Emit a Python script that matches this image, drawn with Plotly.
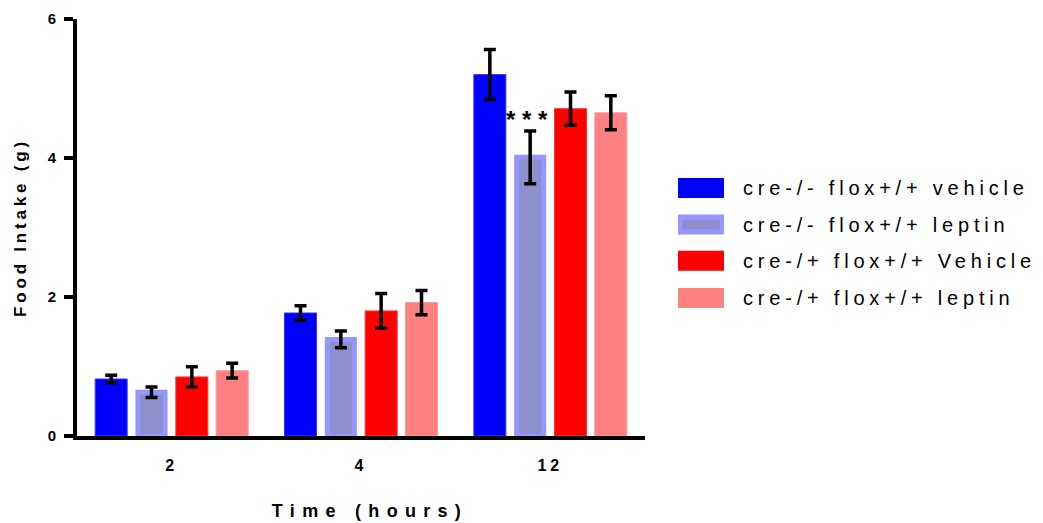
import plotly.graph_objects as go

# ---------------- data ----------------
times = ["2", "4", "12"]
series_names = [
    "cre-/- flox+/+ vehicle",
    "cre-/- flox+/+ leptin",
    "cre-/+ flox+/+ Vehicle",
    "cre-/+ flox+/+ leptin",
]
ko_vehicle = [0.82, 1.77, 5.20]
ko_vehicle_err = [0.055, 0.105, 0.36]
ko_leptin = [0.63, 1.39, 4.01]
ko_leptin_err = [0.075, 0.12, 0.38]
het_vehicle = [0.85, 1.80, 4.71]
het_vehicle_err = [0.145, 0.25, 0.24]
het_leptin = [0.94, 1.92, 4.65]
het_leptin_err = [0.105, 0.175, 0.245]
y_ticks = [0, 2, 4, 6]
significance_label = "* * *"
significance_y = 4.55

values = [ko_vehicle, ko_leptin, het_vehicle, het_leptin]
errors = [ko_vehicle_err, ko_leptin_err, het_vehicle_err, het_leptin_err]

# ---------------- styles ----------------
fills = ["#0000ff", "#8b8fcb", "#ff0000", "#ff8080"]
edges = ["#3333ff", "#9696ff", "#ff3333", "#ff9999"]
edge_w = [1, 5, 1, 1]
bar_w = [0.169, 0.143, 0.169, 0.169]
FONT = "Liberation Sans, Arial, sans-serif"

fig = go.Figure()
for name, v, e, fc, ec, lw, bw in zip(series_names, values, errors, fills, edges, edge_w, bar_w):
    fig.add_trace(go.Bar(
        x=times, y=v, name=name, width=bw,
        marker=dict(color=fc, line=dict(color=ec, width=lw)),
        error_y=dict(type="data", array=e, visible=True, color="black", thickness=3.5, width=6),
        showlegend=False,
    ))

# significance stars above the leptin bar at 12 h (annotation index 0)
fig.add_annotation(
    x=2 - 0.125, y=significance_y, xref="x", yref="y",
    text=significance_label, showarrow=False,
    font=dict(family=FONT, size=24, color="black", weight="bold"),
)

# custom legend (large rectangular swatches, as in the reference)
row_y = [0.595, 0.507, 0.42, 0.331]
for name, fc, ec, lw, ry in zip(series_names, fills, edges, edge_w, row_y):
    fig.add_shape(type="rect", xref="paper", yref="paper",
                  x0=1.0581, x1=1.1391, y0=ry - 0.024, y1=ry + 0.024,
                  fillcolor=ec if lw > 1 else fc, line=dict(width=0))
    if lw > 1:
        fig.add_shape(type="rect", xref="paper", yref="paper",
                      x0=1.0581 + 0.0075, x1=1.1391 - 0.0075, y0=ry - 0.011, y1=ry + 0.011,
                      fillcolor=fc, line=dict(width=0))
    fig.add_annotation(x=1.169, y=ry, xref="paper", yref="paper",
                       xanchor="left", yanchor="middle", align="left",
                       text=name, showarrow=False,
                       font=dict(family=FONT, size=20, color="black"))

fig.update_layout(
    width=1043, height=523,
    margin=dict(l=77, r=398, t=19, b=87, autoexpand=False),
    plot_bgcolor="white", paper_bgcolor="white",
    barmode="group", bargap=0.148, bargroupgap=0.206,
    font=dict(family=FONT, color="black"),
)
fig.update_xaxes(
    type="category", range=[-0.5, 2.5], automargin=False,
    showline=True, linecolor="black", linewidth=3.5,
    ticks="", showgrid=False, zeroline=False,
    ticklabelstandoff=12,
    tickfont=dict(family=FONT, size=16, color="black", weight="bold"),
    title=dict(text="Time (hours)", standoff=32,
               font=dict(family=FONT, size=18, color="black", weight="bold")),
)
fig.update_yaxes(
    range=[0, 6], tickvals=y_ticks, automargin=False,
    showline=True, linecolor="black", linewidth=4,
    ticks="outside", ticklen=9, tickwidth=3.5, tickcolor="black",
    showgrid=False, zeroline=False,
    ticklabelstandoff=5,
    tickfont=dict(family=FONT, size=15, color="black", weight="bold"),
    title=dict(text="Food Intake (g)", standoff=18,
               font=dict(family=FONT, size=17, color="black", weight="bold")),
)

post = """
var s = document.createElement('style');
s.textContent = 'body{margin:0;padding:0}' +
  '.xtitle{letter-spacing:7.3px;transform:translateX(9px)}.ytitle{letter-spacing:3.8px}' +
  '.xtick text{letter-spacing:4px}' +
  '.annotation-text{letter-spacing:4.8px}' +
  '.annotation[data-index="0"] .annotation-text{letter-spacing:0px}';
document.head.appendChild(s);
"""
fig.write_html("out.html", post_script=post, config={"displayModeBar": False})
